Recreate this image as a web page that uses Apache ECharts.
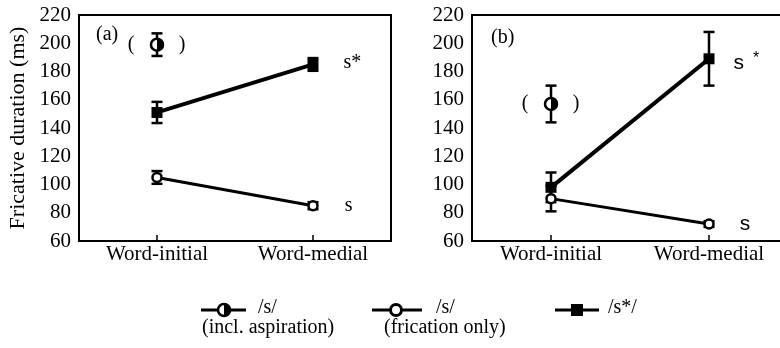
<!DOCTYPE html>
<html>
<head>
<meta charset="utf-8">
<script src="https://cdn.jsdelivr.net/npm/echarts@6/dist/echarts.min.js"></script>
<style>
  html, body { margin: 0; padding: 0; background: #fff; }
  #chart { width: 780px; height: 348px; }
</style>
</head>
<body>
<div id="chart"></div>
<script>
// Categories and axis range
const categories = ['Word-initial', 'Word-medial'];
const yMin = 60, yMax = 220, yStep = 20;

// Panel (a): mean durations (ms) and error half-widths
const aSstar = [151, 185];
const aSstarErr = [7.5, 4.5];
const aSfric = [105, 85];
const aSfricErr = [4.5, 2.5];
const aSasp = [199];
const aSaspErr = [8];

// Panel (b)
const bSstar = [98, 189];
const bSstarErr = [10.5, 19];
const bSfric = [90, 72];
const bSfricErr = [9, 2];
const bSasp = [157];
const bSaspErr = [13];

const SERIF = '"Liberation Serif", "Times New Roman", serif';
const SANS = '"Liberation Sans", Arial, sans-serif';
const BLACK = '#000';

// Vertical error bars with caps
function errorBarRender(params, api) {
  const x = api.value(0), v = api.value(1), e = api.value(2);
  const top = api.coord([x, v + e]);
  const bot = api.coord([x, v - e]);
  const hw = 5.5;
  const st = { stroke: BLACK, lineWidth: 2.5, fill: null };
  return {
    type: 'group',
    children: [
      { type: 'line', shape: { x1: top[0], y1: top[1], x2: bot[0], y2: bot[1] }, style: st },
      { type: 'line', shape: { x1: top[0] - hw, y1: top[1], x2: top[0] + hw, y2: top[1] }, style: st },
      { type: 'line', shape: { x1: bot[0] - hw, y1: bot[1], x2: bot[0] + hw, y2: bot[1] }, style: st }
    ]
  };
}

// Half-filled circle in parentheses (incl. aspiration)
function aspirationRender(params, api) {
  const p = api.coord([api.value(0), api.value(1)]);
  const tf = { font: '20px ' + SERIF, fill: BLACK, align: 'center', verticalAlign: 'middle' };
  return {
    type: 'group',
    children: [
      { type: 'text', x: p[0] - 26, y: p[1], style: Object.assign({ text: '(' }, tf) },
      { type: 'text', x: p[0] + 25, y: p[1], style: Object.assign({ text: ')' }, tf) },
      { type: 'circle', shape: { cx: p[0], cy: p[1], r: 6 }, style: { fill: '#fff', stroke: BLACK, lineWidth: 2.5 } },
      { type: 'sector', shape: { cx: p[0], cy: p[1], r: 6.5, r0: 0, startAngle: -Math.PI / 2, endAngle: Math.PI / 2 }, style: { fill: BLACK } }
    ]
  };
}

function errData(vals, errs) {
  return vals.map((v, i) => [i, v, errs[i]]);
}

function endLabel(vals, labelOpt) {
  return vals.map((v, i) => i === vals.length - 1 ? { value: v, label: Object.assign({ show: true }, labelOpt) } : v);
}

function panelSeries(idx, sstar, sstarErr, sfric, sfricErr, sasp, saspErr, starLabel, sLabel) {
  return [
    {
      type: 'custom', xAxisIndex: idx, yAxisIndex: idx, z: 1,
      renderItem: errorBarRender,
      encode: { x: 0, y: 1 },
      data: errData(sstar, sstarErr).concat(errData(sfric, sfricErr), errData(sasp, saspErr))
    },
    {
      type: 'line', xAxisIndex: idx, yAxisIndex: idx, z: 3,
      data: endLabel(sstar, starLabel),
      symbol: 'rect', symbolSize: 11,
      itemStyle: { color: BLACK },
      lineStyle: { color: BLACK, width: 4 }
    },
    {
      type: 'line', xAxisIndex: idx, yAxisIndex: idx, z: 3,
      data: endLabel(sfric, sLabel),
      symbol: 'circle', symbolSize: 9,
      itemStyle: { color: '#fff', borderColor: BLACK, borderWidth: 2.5 },
      lineStyle: { color: BLACK, width: 3 }
    },
    {
      type: 'custom', xAxisIndex: idx, yAxisIndex: idx, z: 4,
      renderItem: aspirationRender,
      encode: { x: 0, y: 1 },
      data: sasp.map((v, i) => [i, v])
    }
  ];
}

function xAxisFor(idx) {
  return {
    type: 'category', gridIndex: idx, data: categories, boundaryGap: true,
    axisLine: { lineStyle: { color: BLACK, width: 2 } },
    axisTick: { show: true, inside: true, alignWithLabel: true, length: 6, lineStyle: { color: BLACK, width: 1.5 } },
    axisLabel: { color: BLACK, fontFamily: SERIF, fontSize: 21, margin: 3 },
    splitLine: { show: false }
  };
}

function yAxisFor(idx, withName) {
  const ax = {
    type: 'value', gridIndex: idx, min: yMin, max: yMax, interval: yStep,
    axisLine: { show: true, lineStyle: { color: BLACK, width: 2 } },
    axisTick: { show: false },
    axisLabel: { color: BLACK, fontFamily: SERIF, fontSize: 21, margin: 8 },
    splitLine: { show: false }
  };
  if (withName) {
    ax.name = 'Fricative duration (ms)';
    ax.nameLocation = 'middle';
    ax.nameGap = 50;
    ax.nameTextStyle = { color: BLACK, fontFamily: SERIF, fontSize: 22 };
  }
  return ax;
}

const gridBox = { show: true, borderColor: BLACK, borderWidth: 2, backgroundColor: 'transparent', containLabel: false, outerBoundsMode: 'none' };

const legendFont = '20px ' + SERIF;
function ltext(x, y, t) {
  return { type: 'text', x: x, y: y, style: { text: t, font: legendFont, fill: BLACK, verticalAlign: 'middle' } };
}
function lline(x1, x2, y) {
  return { type: 'line', shape: { x1: x1, y1: y, x2: x2, y2: y }, style: { stroke: BLACK, lineWidth: 3 } };
}

const option = {
  animation: false,
  backgroundColor: '#fff',
  grid: [
    Object.assign({ left: 79, width: 312, top: 15, height: 226 }, gridBox),
    Object.assign({ left: 472, width: 316, top: 15, height: 226 }, gridBox)
  ],
  xAxis: [xAxisFor(0), xAxisFor(1)],
  yAxis: [yAxisFor(0, true), yAxisFor(1, false)],
  series: [].concat(
    panelSeries(0, aSstar, aSstarErr, aSfric, aSfricErr, aSasp, aSaspErr,
      { position: 'right', distance: 25, offset: [0, -2], formatter: 's*', color: BLACK, fontFamily: SERIF, fontSize: 20 },
      { position: 'right', distance: 26, formatter: 's', color: BLACK, fontFamily: SERIF, fontSize: 20 }),
    panelSeries(1, bSstar, bSstarErr, bSfric, bSfricErr, bSasp, bSaspErr,
      {
        position: 'right', distance: 19, offset: [0, 4], formatter: '{s|s}{a|*}',
        rich: {
          s: { color: BLACK, fontFamily: SANS, fontSize: 21, lineHeight: 30 },
          a: { color: BLACK, fontFamily: SANS, fontSize: 16, lineHeight: 16, verticalAlign: 'top', padding: [3, 0, 0, 9] }
        }
      },
      { position: 'right', distance: 25, formatter: 's', color: BLACK, fontFamily: SANS, fontSize: 21 })
  ),
  graphic: [
    { type: 'text', x: 96, y: 35, style: { text: '(a)', font: '20px ' + SERIF, fill: BLACK, verticalAlign: 'middle' } },
    { type: 'text', x: 491, y: 38, style: { text: '(b)', font: '20px ' + SERIF, fill: BLACK, verticalAlign: 'middle' } },

    // legend: /s/ incl. aspiration
    lline(201, 246, 310),
    { type: 'circle', shape: { cx: 224, cy: 310, r: 6 }, style: { fill: '#fff', stroke: BLACK, lineWidth: 2.5 } },
    { type: 'sector', shape: { cx: 224, cy: 310, r: 6.5, r0: 0, startAngle: -Math.PI / 2, endAngle: Math.PI / 2 }, style: { fill: BLACK } },
    ltext(258, 308, '/s/'),
    ltext(202, 328, '(incl. aspiration)'),

    // legend: /s/ frication only
    lline(372, 422, 310),
    { type: 'circle', shape: { cx: 396, cy: 310, r: 5.5 }, style: { fill: '#fff', stroke: BLACK, lineWidth: 3 } },
    ltext(436, 308, '/s/'),
    ltext(384, 328, '(frication only)'),

    // legend: /s*/
    lline(555, 599, 310),
    { type: 'rect', shape: { x: 571, y: 304, width: 12, height: 12 }, style: { fill: BLACK } },
    ltext(608, 308, '/s*/')
  ]
};

const chart = echarts.init(document.getElementById('chart'), null, { renderer: 'canvas' });
chart.setOption(option);
</script>
</body>
</html>
